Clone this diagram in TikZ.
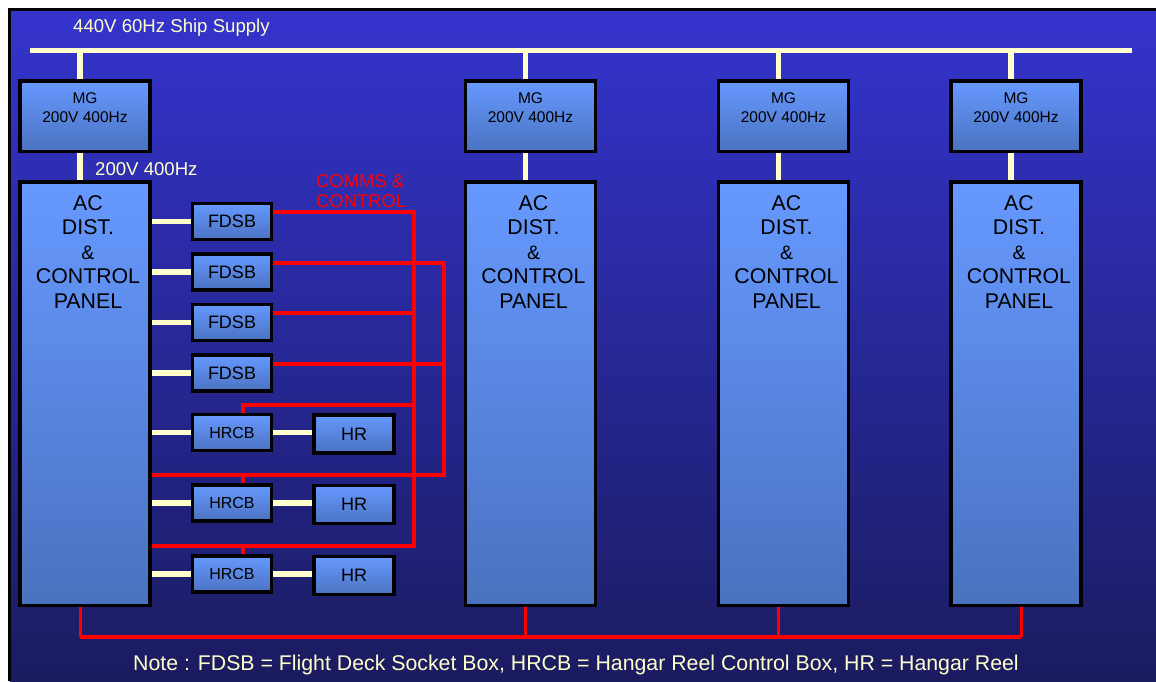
\documentclass[tikz,border=0pt]{standalone}
\usepackage{fontspec}
\setmainfont{Liberation Sans}
\usetikzlibrary{calc}
\definecolor{bgtop}{RGB}{52,52,206}
\definecolor{bgbot}{RGB}{27,27,96}
\definecolor{boxtop}{RGB}{102,153,255}
\definecolor{boxbot}{RGB}{74,114,192}
\definecolor{cream}{RGB}{255,255,204}
\definecolor{wire}{RGB}{255,0,0}
\tikzset{
  box/.style={draw=black, line width=3.5pt, top color=boxtop, bottom color=boxbot, rectangle, inner sep=0pt},
  mgbox/.style={box, minimum width=130pt, minimum height=70.5pt},
  panelbox/.style={box, minimum width=130pt, minimum height=423.5pt},
  smallbox/.style={box, minimum width=79pt, minimum height=36pt},
  hrbox/.style={box, minimum width=80pt, minimum height=38pt},
  pw/.style={draw=cream, line width=5.5pt},
  cc/.style={draw=wire, line width=4pt},
  cctap/.style={draw=wire, line width=3pt},
  mgtext/.style={anchor=north, align=center, inner sep=0pt, font=\fontsize{15.5}{19}\selectfont, text=black},
  paneltext/.style={anchor=north, align=center, inner sep=0pt, font=\fontsize{21.3}{24.5}\selectfont, text=black},
  lbl/.style={inner sep=0pt, text=cream, font=\fontsize{18.6}{21}\selectfont},
}
\begin{document}
\begin{tikzpicture}[x=1pt,y=-1pt]
\useasboundingbox (0,0) rectangle (1156,681);
\fill[white] (0,0) rectangle (1156,681);
\shade[top color=bgtop, bottom color=bgbot] (9.5,9.5) rectangle (1156,681);
\draw[line width=3pt] (9.5,681) -- (9.5,9.5) -- (1156,9.5);

% supply bus
\coordinate (busL) at (30,50);
\coordinate (busR) at (1132,50);
\coordinate (cb) at (80,637);
\draw[pw, line width=5pt] (busL) -- (busR);
\node[lbl, anchor=west] (supply) at (73,28) {440V 60Hz Ship Supply};

% MG boxes and panels
\foreach \i/\cx/\dx in {1/85/-5, 2/530.5/-5, 3/783.5/-5.5, 4/1016/5}{
  \node[mgbox] (mg\i) at (\cx,116) {};
  \node[panelbox] (p\i) at (\cx,393.5) {};
  \coordinate (mt\i) at ($(mg\i.north)+(-5,0)$);
  \coordinate (mb\i) at ($(mg\i.south)+(-5,0)$);
  \coordinate (pt\i) at ($(p\i.north)+(-5,0)$);
  \coordinate (bt\i) at ($(p\i.south)+(\dx,0)$);
  \draw[pw] (mt\i) -- (mt\i |- busL);
  \draw[pw] (mb\i) -- (pt\i);
  \draw[cctap] (bt\i) -- (bt\i |- cb);
  \node[mgtext] (mgt\i) at ($(mg\i.north)+(0,13)$) {MG\\200V 400Hz};
  \node[paneltext] (ptx\i) at ($(p\i.north)+(3,15)$) {AC\\DIST.\\{\fontsize{19.5}{24.5}\selectfont\&}\\CONTROL\\PANEL};
}
\draw[cc] (bt1 |- cb) -- (bt4 |- cb);
\node[lbl, anchor=west] (v200) at (95,169) {200V 400Hz};

% FDSB boxes
\foreach \i/\cy in {1/221.5, 2/272, 3/322.5, 4/373}{
  \node[smallbox, font=\fontsize{18}{20}\selectfont] (f\i) at (232,\cy) {FDSB};
  \draw[pw] (p1.east |- f\i.west) -- (f\i.west);
}
% HRCB and HR
\foreach \i/\cy in {1/432.5, 2/503, 3/574}{
  \node[smallbox, font=\fontsize{16}{18}\selectfont] (h\i) at (232,\cy) {HRCB};
  \node[hrbox, font=\fontsize{18}{20}\selectfont] (r\i) at (354,\cy+1.5) {HR};
  \draw[pw] (p1.east |- h\i.west) -- (h\i.west);
  \draw[pw] (h\i.east) -- (r\i.west |- h\i.east);
}

% comms & control wiring
\node[lbl, text=wire, anchor=north west, align=left, font=\fontsize{18.4}{20}\selectfont] (comms) at (316,174) {COMMS \&\\CONTROL};
\coordinate (A1) at (414,212);
\coordinate (A2) at (414,546);
\coordinate (B1) at (444,263);
\coordinate (B2) at (444,475);
\coordinate (f1o) at ($(f1.east)+(0,-9.5)$);
\coordinate (f2o) at ($(f2.east)+(0,-9)$);
\coordinate (f3o) at ($(f3.east)+(0,-9.5)$);
\coordinate (f4o) at ($(f4.east)+(0,-9)$);
\coordinate (h1o) at ($(h1.north)+(11,0)$);
\coordinate (h2o) at ($(h2.north)+(11,0)$);
\coordinate (h3o) at ($(h3.north)+(11,0)$);
\coordinate (h1k) at ($(h1.north)+(11,-8)$);
\draw[cc] (f1o) -- (A1 |- f1o) -- (A2) -- (p1.east |- A2);
\draw[cc] (f2o) -- (B1 |- f2o) -- (B2) -- (p1.east |- B2);
\draw[cc] (f3o) -- (A1 |- f3o);
\draw[cc] (f4o) -- (B1 |- f4o);
\draw[cc] (h1o) -- (h1k) -- (A1 |- h1k);
\draw[cc] (h2o) -- (h2o |- B2);
\draw[cc] (h3o) -- (h3o |- A2);

\node[lbl, font=\fontsize{21.3}{24}\selectfont] (note) at (576,665) {Note : FDSB = Flight Deck Socket Box, HRCB = Hangar Reel Control Box, HR = Hangar Reel};
\end{tikzpicture}
\end{document}
